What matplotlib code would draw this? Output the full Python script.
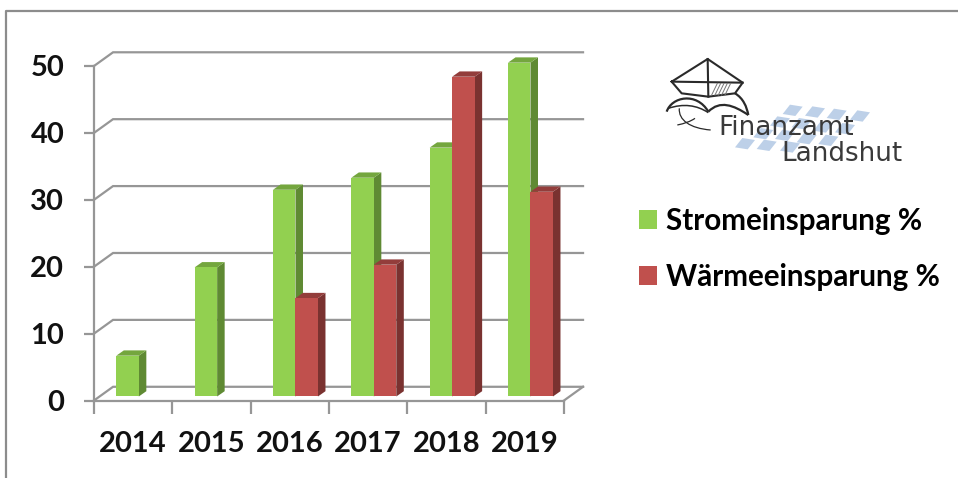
import numpy as np
import matplotlib.pyplot as plt
from matplotlib.patches import Polygon, Patch
from matplotlib.path import Path
from matplotlib.patches import PathPatch

years = ['2014', '2015', '2016', '2017', '2018', '2019']
strom = [6.1, 19.3, 30.9, 32.7, 37.2, 49.9]
waerme = [0, 0, 14.7, 19.7, 47.8, 30.6]
y_ticks = [0, 10, 20, 30, 40, 50]
strom_label = 'Stromeinsparung %'
waerme_label = 'Wärmeeinsparung %'

GREEN, GREEN_SIDE, GREEN_TOP = '#92d050', '#5f8a33', '#74a63e'
RED, RED_SIDE, RED_TOP = '#c0504d', '#7a3230', '#933d3b'
GRID = '#969696'

# 3d look: offsets in data units
wall_dx, wall_dy = 0.243, 2.05
bar_dx, bar_dy = 0.096, 0.79
bar_base = 0.6
bar_w = 0.287
FONT = 'Lato'

fig = plt.figure(figsize=(9.58, 4.78), dpi=100, facecolor='white')

# ---------- pixel overlay for the frame and the logo ----------
bg = fig.add_axes([0, 0, 1, 1])
bg.set_xlim(0, 958)
bg.set_ylim(478, 0)
bg.axis('off')
bg.plot([6, 6, 958], [478, 11, 11], color='#8c8c8c', lw=1.6)

# ---------- chart ----------
ax = fig.add_axes([94 / 958, 1 - 400.5 / 478, 470 / 958, 334.5 / 478])
ax.patch.set_alpha(0)
ax.set_xlim(0, 6)
ax.set_ylim(0, 50)
for s in ['top', 'right']:
    ax.spines[s].set_visible(False)
for s in ['left', 'bottom']:
    ax.spines[s].set_color(GRID)
    ax.spines[s].set_linewidth(1.6)

# back wall and floor lines
for v in y_ticks:
    ax.plot([0, wall_dx, 6 + wall_dx], [v, v + wall_dy, v + wall_dy],
            color=GRID, lw=1.6, clip_on=False, zorder=1, solid_joinstyle='miter')
ax.plot([6, 6 + wall_dx], [0, wall_dy], color=GRID, lw=1.6, clip_on=False, zorder=1)


def draw_bars(xs, vals, col, side, top, label):
    keep = [(x, v) for x, v in zip(xs, vals) if v > 0]
    for x, v in reversed(keep):
        y1 = bar_base + v
        ax.add_patch(Polygon([(x + bar_w, bar_base), (x + bar_w + bar_dx, bar_base + bar_dy),
                              (x + bar_w + bar_dx, y1 + bar_dy), (x + bar_w, y1)],
                             fc=side, ec='none', clip_on=False, zorder=3))
        ax.add_patch(Polygon([(x, y1), (x + bar_dx, y1 + bar_dy),
                              (x + bar_w + bar_dx, y1 + bar_dy), (x + bar_w, y1)],
                             fc=top, ec='none', clip_on=False, zorder=3))
    ax.bar([k[0] for k in keep], [k[1] for k in keep], width=bar_w, bottom=bar_base,
           align='edge', color=col, clip_on=False, zorder=4, label=label)


x = np.arange(len(years))
draw_bars(x + 0.285, strom, GREEN, GREEN_SIDE, GREEN_TOP, strom_label)
draw_bars(x + 0.572, waerme, RED, RED_SIDE, RED_TOP, waerme_label)

ax.set_yticks(y_ticks)
ax.set_xticks(range(7))
ax.set_xticklabels([])
ax.set_xticks(x + 0.5, labels=years, minor=True)
ax.tick_params(axis='y', length=7.5, width=1.6, color=GRID, pad=14, labelsize=21)
ax.tick_params(axis='x', which='major', length=9, width=1.6, color=GRID)
ax.tick_params(axis='x', which='minor', length=0, pad=22, labelsize=21)
for t in ax.get_xticklabels(minor=True) + ax.get_yticklabels():
    t.set_fontfamily(FONT)
    t.set_fontweight('bold')
    t.set_color('#111111')

handles = [Patch(fc=GREEN, label=strom_label), Patch(fc=RED, label=waerme_label)]
fig.legend(handles=handles, loc='upper left', bbox_to_anchor=(639 / 958, 1 - 207 / 478),
           frameon=False, handlelength=0.6, handleheight=0.6, handletextpad=0.3,
           labelspacing=0.95, borderpad=0, borderaxespad=0,
           prop={'family': FONT, 'weight': 'bold', 'size': 21.3})

# ---------- logo ----------
def lx(z):
    return 640 + z / 3


def ly(z):
    return 40 + z / 3


ink = '#2a2a2a'
blue = '#bdd0e8'
diamonds = [(458, 210), (525, 215), (590, 222), (660, 227),
            (420, 245), (485, 250), (550, 260), (615, 265),
            (370, 280), (435, 285), (500, 295), (565, 300),
            (315, 310), (380, 315), (450, 320)]
for zx, zy in diamonds:
    bg.add_patch(Polygon([(lx(zx - 30), ly(zy + 12)), (lx(zx - 8), ly(zy - 16)),
                          (lx(zx + 30), ly(zy - 10)), (lx(zx + 8), ly(zy + 18))],
                         fc=blue, ec='none', zorder=2))

kite_x = [95, 203, 308, 285, 205, 125, 95]
kite_y = [125, 57, 128, 160, 170, 160, 125]
bg.plot([lx(v) for v in kite_x], [ly(v) for v in kite_y], color=ink, lw=1.5, zorder=3)
bg.plot([lx(203), lx(205)], [ly(57), ly(170)], color=ink, lw=1.5, zorder=3)
bg.plot([lx(100), lx(308)], [ly(125), ly(128)], color=ink, lw=1.5, zorder=3)
for h in range(5):
    bg.plot([lx(215 + h * 10), lx(232 + h * 10)], [ly(165), ly(130)], color='#777777', lw=0.7, zorder=3)


def curve(pts, lw=1.6):
    verts = [(lx(a), ly(b)) for a, b in pts]
    codes = [Path.MOVETO] + [Path.CURVE4] * (len(verts) - 1)
    bg.add_patch(PathPatch(Path(verts, codes), fc='none', ec=ink, lw=lw, zorder=3))


curve([(80, 215), (95, 170), (170, 155), (205, 215)])
curve([(205, 215), (240, 180), (280, 195), (325, 225)])
curve([(285, 160), (310, 175), (320, 200), (325, 225)])
curve([(85, 205), (130, 190), (170, 195), (205, 218)], 1.1)
curve([(118, 205), (115, 240), (150, 265), (212, 270)], 0.9)
curve([(112, 255), (135, 250), (150, 245), (165, 235)], 0.9)

bg.text(lx(235), 135, 'Finanzamt', family='DejaVu Sans', size=18.8, color='#3a3a3a',
        va='baseline', ha='left', zorder=5)
bg.text(lx(425), 161, 'Landshut', family='DejaVu Sans', size=18.8, color='#3a3a3a',
        va='baseline', ha='left', zorder=5)

fig.savefig('out.png', dpi=100)
